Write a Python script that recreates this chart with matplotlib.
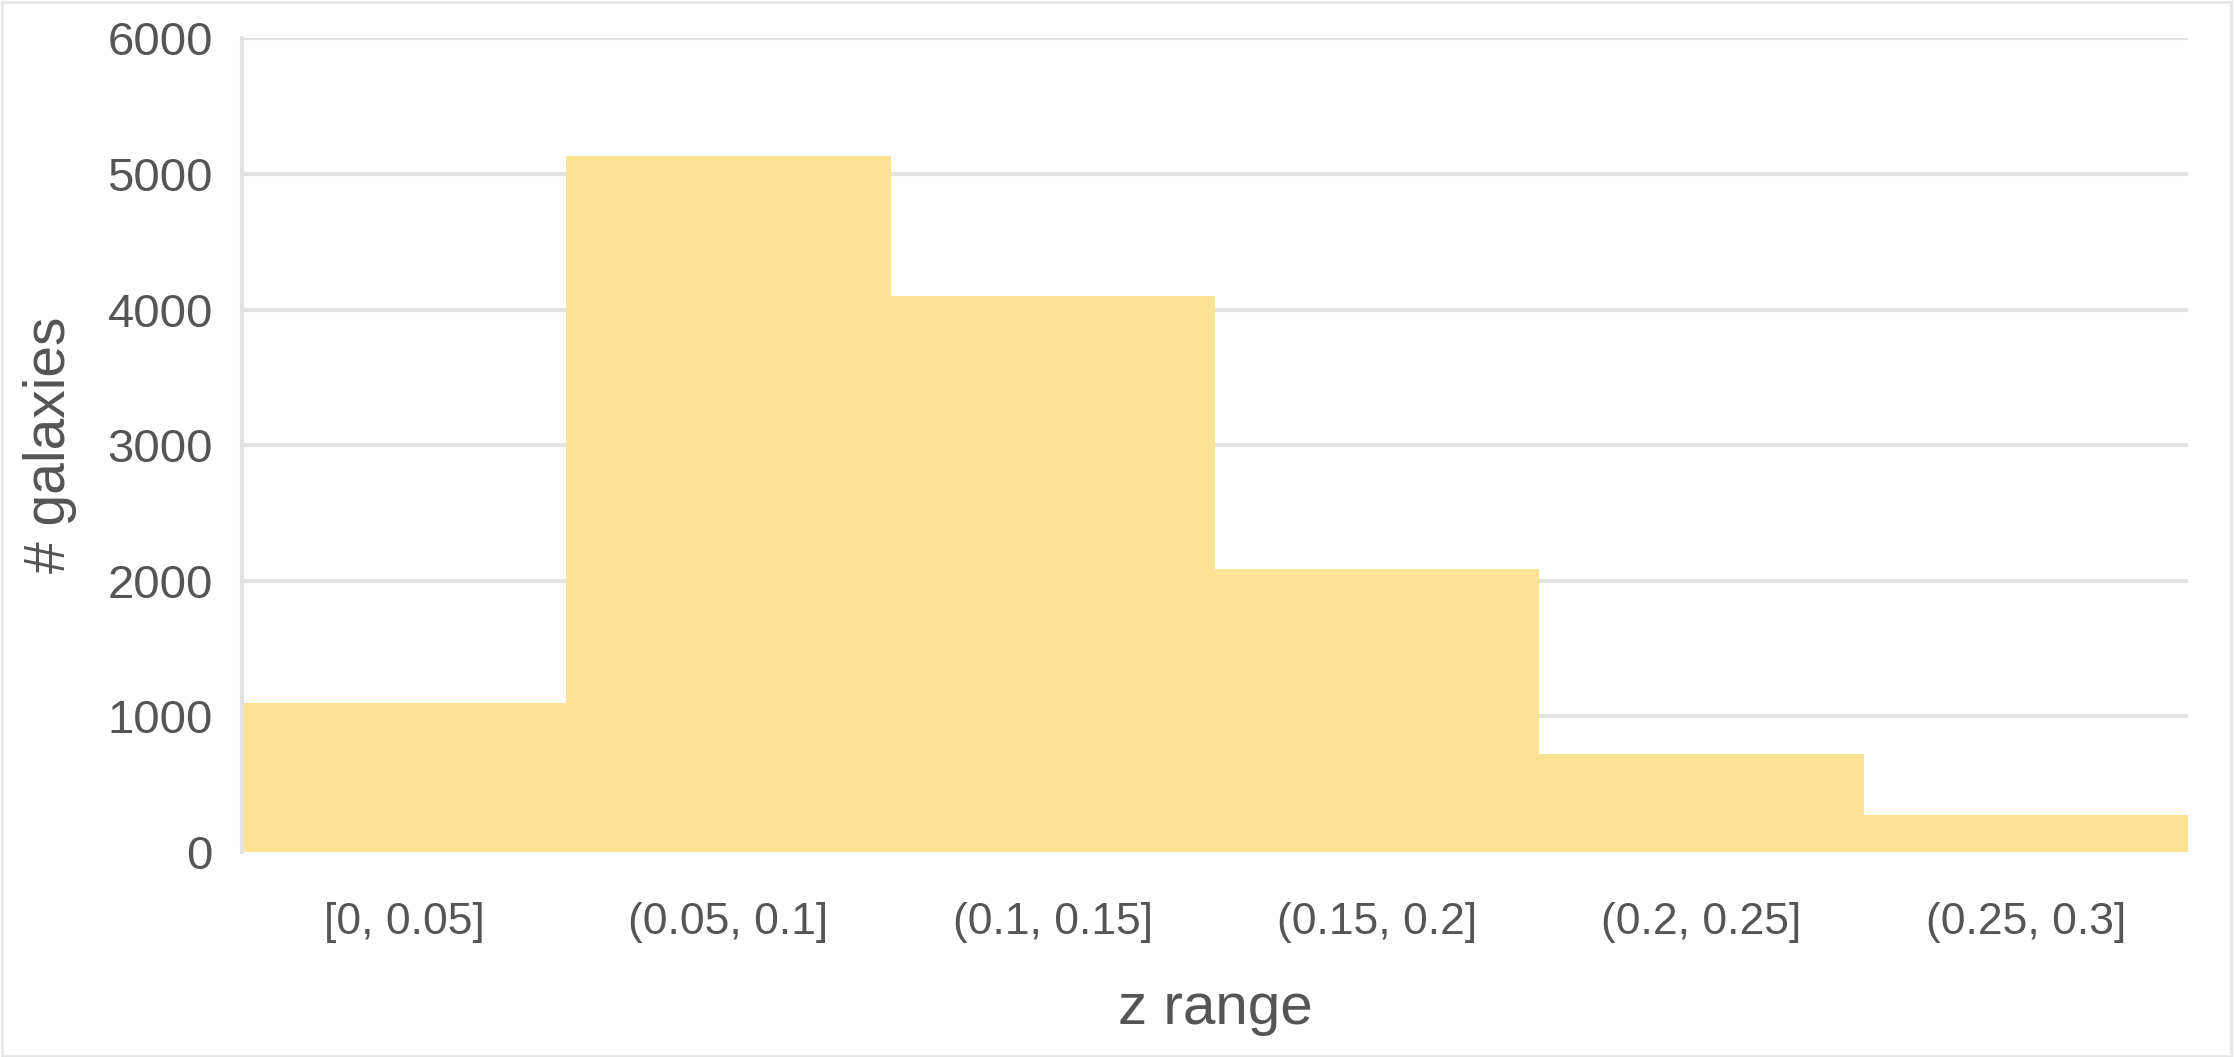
"""Galaxy count per redshift bin."""

import matplotlib

matplotlib.use("Agg")
import matplotlib.pyplot as plt
from matplotlib.patches import Rectangle

z_bins = ["[0, 0.05]", "(0.05, 0.1]", "(0.1, 0.15]", "(0.15, 0.2]", "(0.2, 0.25]", "(0.25, 0.3]"]
n_galaxies = [1100, 5130, 4100, 2090, 720, 270]
y_ticks = [0, 1000, 2000, 3000, 4000, 5000, 6000]

plt.rcParams["font.family"] = ["Liberation Sans", "DejaVu Sans"]

fig = plt.figure(figsize=(22.35, 10.57), dpi=100)
ax = fig.add_axes([0.1083, 0.194, 0.8707, 0.7696])

x = range(len(z_bins))
ax.bar(x, n_galaxies, width=1.0, color="#FDE293", edgecolor="none", zorder=2)

ax.set_xlim(-0.5, len(z_bins) - 0.5)
ax.set_ylim(0, 6000)
ax.set_yticks(y_ticks)
ax.set_xticks(list(x))
ax.set_xticklabels(z_bins)
ax.tick_params(axis="both", length=0, labelcolor="#555555")
ax.tick_params(axis="y", pad=21, labelsize=34)
ax.tick_params(axis="x", pad=36, labelsize=32)
ax.grid(axis="y", color="#e3e3e3", linewidth=3, zorder=0)

for s in ("top", "right", "bottom"):
    ax.spines[s].set_visible(False)
ax.spines["left"].set_color("#e3e3e3")
ax.spines["left"].set_linewidth(3)

ax.set_xlabel("z range", fontsize=42, color="#555555", labelpad=28)
ax.set_ylabel("# galaxies", fontsize=41, color="#555555", labelpad=22)

fig.patches.append(Rectangle((0.001, 0.001), 0.997, 0.997, transform=fig.transFigure,
                             fill=False, edgecolor="#e6e6e6", linewidth=2))

fig.savefig("out.png", dpi=100)
plt.close(fig)
